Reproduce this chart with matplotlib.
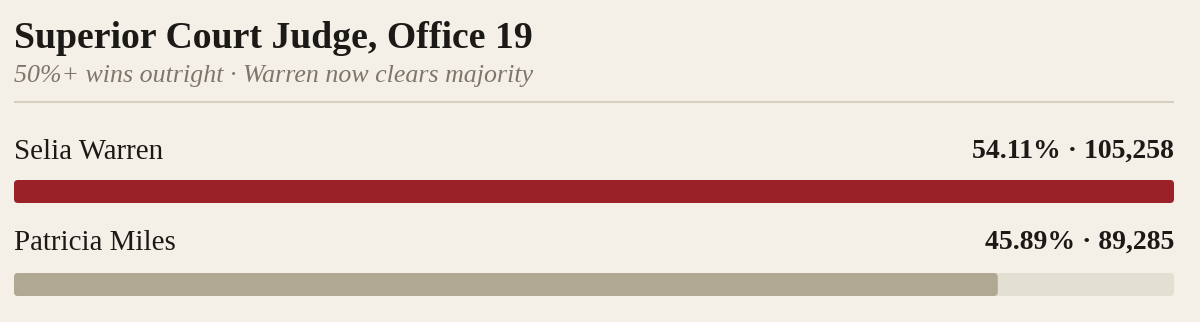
import matplotlib
matplotlib.use("Agg")
import matplotlib.pyplot as plt
from matplotlib.patches import FancyBboxPatch

title = "Superior Court Judge, Office 19"
subtitle = "50%+ wins outright · Warren now clears majority"
candidates = ["Selia Warren", "Patricia Miles"]
percents = [54.11, 45.89]
votes = [105258, 89285]
bar_colors = ["#9b2128", "#b0a893"]

BG = "#f4efe7"
TRACK = "#e4dfd3"
W, H = 1200, 322
fig = plt.figure(figsize=(W / 100, H / 100), dpi=100, facecolor=BG)

serif = ["Liberation Serif", "DejaVu Serif"]

fig.text(14 / W, 1 - 48 / H, title, fontsize=27.2, fontweight="bold", family=serif,
         color="#1c1a17", ha="left", va="baseline")
fig.text(14 / W, 1 - 82 / H, subtitle, fontsize=18.6, style="italic", family=serif,
         color="#7d776b", ha="left", va="baseline")

# axes spanning the plotting width, y in pixels from top
ax = fig.add_axes([14 / W, 0, 1160 / W, 1])
ax.set_facecolor("none")
ax.set_xlim(0, max(percents))
ax.set_ylim(H, 0)
ax.axis("off")

ax.plot([0, max(percents)], [102, 102], color="#d6d0bf", lw=1.5, solid_capstyle="butt")

xpx = 1160 / max(percents)
r = 4
row_tops = [180, 273]
label_base = [159, 250]
for name, p, v, c, y0, lb in zip(candidates, percents, votes, bar_colors, row_tops, label_base):
    h = 23
    track = FancyBboxPatch((0, y0), max(percents), h,
                           boxstyle=f"round,pad=0,rounding_size={r / xpx}",
                           mutation_aspect=xpx, fc=TRACK, ec="none")
    ax.add_patch(track)
    bar = FancyBboxPatch((0, y0), p, h,
                         boxstyle=f"round,pad=0,rounding_size={r / xpx}",
                         mutation_aspect=xpx, fc=c, ec="none")
    ax.add_patch(bar)
    ax.text(0, lb, name, fontsize=20.9, family=serif, color="#1c1a17",
            ha="left", va="baseline")
    ax.text(max(percents), lb - 1, f"{p:.2f}% · {v:,}", fontsize=20, fontweight="bold",
            family=serif, color="#1c1a17", ha="right", va="baseline")

fig.savefig("out.png", dpi=100, facecolor=BG)
